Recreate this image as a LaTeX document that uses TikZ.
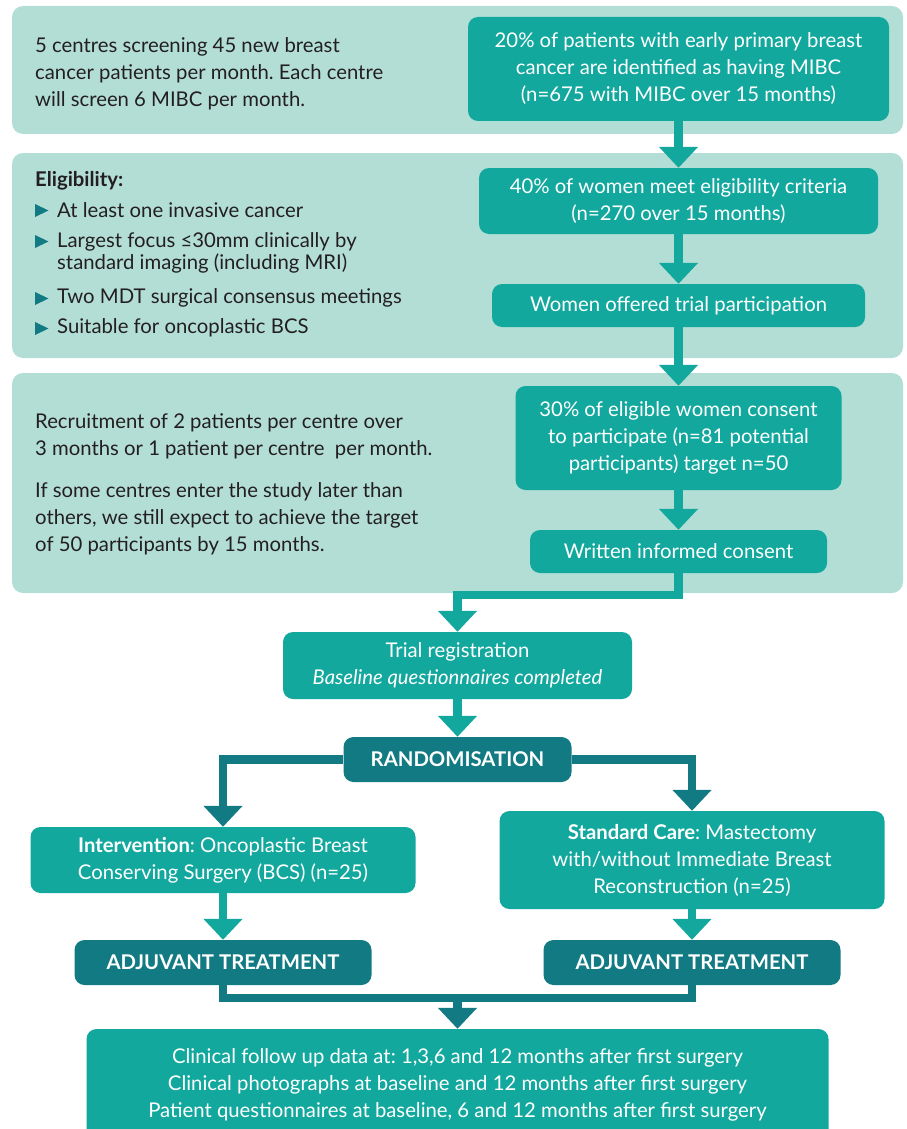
\documentclass[tikz,border=0pt]{standalone}
\usepackage{fontspec}
\setmainfont{Lato}
\frenchspacing
\usetikzlibrary{arrows.meta}
\definecolor{panelc}{HTML}{B3DED6}
\definecolor{tealbox}{HTML}{13A89E}
\definecolor{darkteal}{HTML}{127A82}
\definecolor{ink}{HTML}{231F20}
\newcommand{\fs}{\fontsize{20.3}{27}\selectfont}
\tikzset{
  panel/.style={rectangle, fill=panelc, rounded corners=11pt, inner sep=0pt},
  box/.style={rectangle, fill=tealbox, rounded corners=10pt, text=white, align=center, inner sep=0pt, font=\fs},
  dbox/.style={box, fill=darkteal, font=\fs\bfseries},
  lefttext/.style={align=left, text=ink, inner sep=0pt, font=\fs},
  arr/.style={draw=tealbox, line width=8.5pt, -{Triangle[width=38pt,length=21pt]}},
  darr/.style={arr, draw=darkteal},
  dline/.style={draw=darkteal, line width=8pt},
  bullet/.style={fill=darkteal}
}
\begin{document}
\begin{tikzpicture}[x=1pt,y=-1pt]
\useasboundingbox (0,0) rectangle (906,1129);
\clip (0,0) rectangle (906,1129);
% panels
\node[panel, minimum width=891pt, minimum height=128pt] (p1) at (457.5,70) {};
\node[panel, minimum width=891pt, minimum height=205pt] (p2) at (457.5,255.5) {};
\node[panel, minimum width=891pt, minimum height=220pt] (p3) at (457.5,483) {};
% left texts
\node[lefttext, anchor=west] (t1) at (35,73.5) {5 centres screening 45 new breast\\cancer patients per month. Each centre\\will screen 6 MIBC per month.};
\node[lefttext, anchor=west, font=\fs\bfseries] (elig) at (35,181) {Eligibility:};
\node[lefttext, anchor=west] (i1) at (57,210) {At least one invasive cancer};
\node[lefttext, anchor=west, font=\fontsize{20.3}{22}\selectfont] (i2) at (57,252.5) {Largest focus ≤30mm clinically by\\standard imaging (including MRI)};
\node[lefttext, anchor=west] (i3) at (57,298) {Two MDT surgical consensus meetings};
\node[lefttext, anchor=west] (i4) at (57,328) {Suitable for oncoplastic BCS};
\foreach \yy in {210.5,241.5,298.5,328.5}{
  \fill[bullet] (35,\yy-6.5) -- (48.5,\yy) -- (35,\yy+6.5) -- cycle;
}
\node[lefttext, anchor=west] (r1) at (35,436) {Recruitment of 2 patients per centre over\\3 months or 1 patient per centre\ \ per month.};
\node[lefttext, anchor=west] (r2) at (35,518.5) {If some centres enter the study later than\\others, we still expect to achieve the target\\of 50 participants by 15 months.};
% boxes
\node[box, minimum width=421pt, minimum height=104pt] (b1) at (678.5,69) {20\% of patients with early primary breast\\cancer are identified as having MIBC\\(n=675 with MIBC over 15 months)};
\node[box, minimum width=399pt, minimum height=66pt] (b2) at (678.5,201) {40\% of women meet eligibility criteria\\(n=270 over 15 months)};
\node[box, minimum width=373pt, minimum height=43pt] (b3) at (678.5,305.5) {Women offered trial participation};
\node[box, minimum width=326pt, minimum height=104pt] (b4) at (678.5,438) {30\% of eligible women consent\\to participate (n=81 potential\\participants) target n=50};
\node[box, minimum width=297pt, minimum height=43pt] (b5) at (678.5,551.5) {Written informed consent};
\node[box, minimum width=349pt, minimum height=67pt] (trial) at (457.5,665.5) {Trial registration\\\textit{Baseline questionnaires completed}};
\node[dbox, minimum width=228pt, minimum height=45pt] (rand) at (457.5,759.5) {RANDOMISATION};
\node[box, minimum width=385pt, minimum height=66pt] (int) at (223,860) {\textbf{Intervention}: Oncoplastic Breast\\Conserving Surgery (BCS) (n=25)};
\node[box, minimum width=385pt, minimum height=98pt] (std) at (692,860) {\textbf{Standard Care}: Mastectomy\\with/without Immediate Breast\\Reconstruction (n=25)};
\node[dbox, minimum width=297pt, minimum height=45pt] (adjl) at (223,962.5) {ADJUVANT TREATMENT};
\node[dbox, minimum width=297pt, minimum height=45pt] (adjr) at (692,962.5) {ADJUVANT TREATMENT};
\node[box, minimum width=742pt, minimum height=111pt] (bot) at (457.5,1084.5) {Clinical follow up data at: 1,3,6 and 12 months after first surgery\\Clinical photographs at baseline and 12 months after first surgery\\Patient questionnaires at baseline, 6 and 12 months after first surgery};
% connectors
\draw[arr] (b1.south) -- (b2.north);
\draw[arr] (b2.south) -- (b3.north);
\draw[arr] (b3.south) -- (b4.north);
\draw[arr] (b4.south) -- (b5.north);
\draw[arr] (b5.south) -- ++(0,22) -| (trial.north);
\draw[arr] (trial.south) -- (rand.north);
\draw[darr] (rand.west) -| (int.north);
\draw[darr] (rand.east) -| (std.north);
\draw[arr] (int.south) -- (adjl.north);
\draw[arr] (std.south) -- (adjr.north);
\draw[dline] (adjl.south) -- ++(0,13) -| (adjr.south);
\coordinate (m) at (457.5,998);
\draw[darr] (m) -- (bot.north);
\end{tikzpicture}
\end{document}
